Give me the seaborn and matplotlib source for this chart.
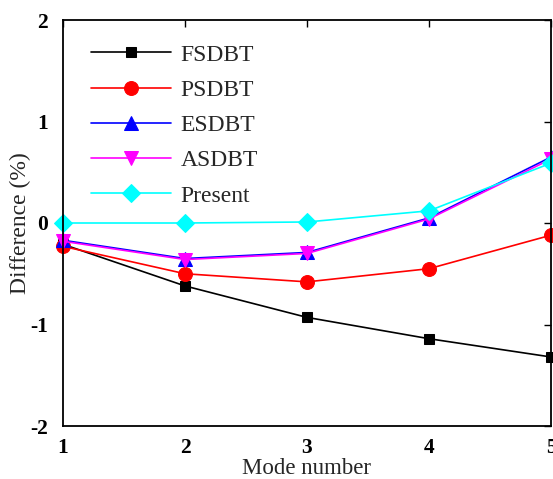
import matplotlib
matplotlib.use("Agg")
import matplotlib.pyplot as plt
import seaborn as sns
import pandas as pd

modes = [1, 2, 3, 4, 5]
fsdbt = [-0.21, -0.62, -0.93, -1.14, -1.32]
psdbt = [-0.23, -0.50, -0.58, -0.45, -0.12]
esdbt = [-0.17, -0.35, -0.29, 0.05, 0.65]
asdbt = [-0.18, -0.36, -0.30, 0.04, 0.63]
present = [0.00, 0.00, 0.01, 0.12, 0.59]

series_names = ["FSDBT", "PSDBT", "ESDBT", "ASDBT", "Present"]
series_values = [fsdbt, psdbt, esdbt, asdbt, present]
colors = ["black", "red", "blue", "magenta", "cyan"]
markers = ["s", "o", "^", "v", "D"]
marker_sizes = [7.5, 10, 10, 10, 9.5]

sns.set_style("white")
plt.rcParams["font.family"] = ["Liberation Serif", "DejaVu Serif"]
plt.rcParams["axes.unicode_minus"] = False

fig = plt.figure(figsize=(5.53, 4.79), dpi=100)
ax = fig.add_axes([63 / 553, 1 - 426 / 479, (551 - 63) / 553, (426 - 20) / 479])

for name, vals, c, m, ms in zip(series_names, series_values, colors, markers, marker_sizes):
    df = pd.DataFrame({"Mode": modes, "Diff": vals})
    sns.lineplot(data=df, x="Mode", y="Diff", ax=ax, color=c, marker=m,
                 markersize=ms, markeredgecolor=c, markerfacecolor=c,
                 linewidth=1.2, label=name, clip_on=False)

ax.set_xlim(1, 5)
ax.set_ylim(-2, 2)
ax.set_xticks(modes)
ax.set_yticks([-2, -1, 0, 1, 2])
ax.tick_params(direction="in", length=5, width=1, top=True, right=True,
               labelsize=15.5, colors="black")
ax.tick_params(axis="x", pad=8.5)
ax.tick_params(axis="y", pad=11)
for lbl in ax.get_xticklabels() + ax.get_yticklabels():
    lbl.set_fontweight("bold")
for sp in ax.spines.values():
    sp.set_color("black")
    sp.set_linewidth(1.3)

ax.set_xlabel("Mode number", fontsize=16.5, labelpad=0)
ax.set_ylabel("Difference (%)", fontsize=17, labelpad=-1)

ax.legend(loc="upper left", frameon=False, fontsize=17, handlelength=3.4,
          handletextpad=0.4, labelspacing=0.58, borderaxespad=0.5,
          bbox_to_anchor=(0.014, 0.993))

fig.savefig("out.png", dpi=100)
